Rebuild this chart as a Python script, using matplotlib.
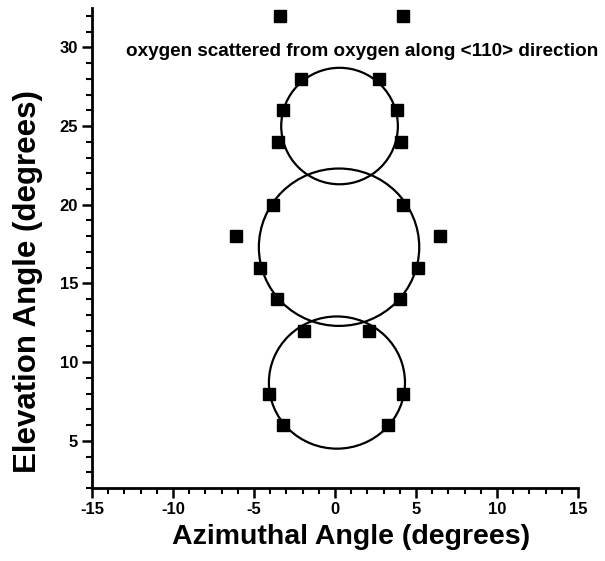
import matplotlib
matplotlib.use('Agg')
import matplotlib.pyplot as plt
from matplotlib.patches import Ellipse
from matplotlib.ticker import MultipleLocator

plt.rcParams['font.family'] = ['Liberation Sans', 'DejaVu Sans']
plt.rcParams['font.weight'] = 'bold'
plt.rcParams['axes.unicode_minus'] = False

# measured scattering points (azimuth, elevation) in degrees
azimuth = [-3.4, 4.2,
           -2.1, 2.7, -3.2, 3.8, -3.5, 4.1,
           -3.8, 4.2, -6.1, 6.5, -4.6, 5.1, -3.6, 4.0,
           -1.9, 2.1, -4.1, 4.2, -3.2, 3.3]
elevation = [32, 32,
             28, 28, 26, 26, 24, 24,
             20, 20, 18, 18, 16, 16, 14, 14,
             12, 12, 8, 8, 6, 6]

# fitted rings: centre x, centre y, radius x, radius y
ring_x = [0.28, 0.25, 0.12]
ring_y = [25.0, 17.3, 8.7]
ring_rx = [3.6, 4.95, 4.2]
ring_ry = [3.7, 5.0, 4.2]

note = 'oxygen scattered from oxygen along <110> direction'

fig = plt.figure(figsize=(6.05, 5.61), dpi=100)
ax = fig.add_axes([92 / 605, 1 - 488 / 561, 486 / 605, 480 / 561])

for cx, cy, rx, ry in zip(ring_x, ring_y, ring_rx, ring_ry):
    ax.add_patch(Ellipse((cx, cy), 2 * rx, 2 * ry, fill=False,
                         edgecolor='black', linewidth=1.6))

ax.plot(azimuth, elevation, 's', color='black', markersize=8, linestyle='none')

ax.text(1.7, 29.75, note, ha='center', va='center', fontsize=13.6,
        fontweight='bold')

ax.set_xlim(-15, 15)
ax.set_ylim(2, 32.5)
ax.xaxis.set_major_locator(MultipleLocator(5))
ax.xaxis.set_minor_locator(MultipleLocator(1))
ax.yaxis.set_minor_locator(MultipleLocator(1))
ax.set_yticks([5, 10, 15, 20, 25, 30])

for s in ['top', 'right']:
    ax.spines[s].set_visible(False)
for s in ['left', 'bottom']:
    ax.spines[s].set_linewidth(2)

ax.tick_params(which='major', direction='out', length=7, width=1.8,
               labelsize=12, pad=3)
ax.tick_params(which='minor', direction='out', length=4, width=1.5)
for lab in ax.get_xticklabels() + ax.get_yticklabels():
    lab.set_fontweight('bold')

ax.set_xlabel('Azimuthal Angle (degrees)', fontsize=20.5, fontweight='bold',
              labelpad=1)
ax.set_ylabel('Elevation Angle (degrees)', fontsize=22.5, fontweight='bold',
              labelpad=6)
ax.xaxis.set_label_coords(0.533, -0.075)
ax.yaxis.set_label_coords(-0.1, 0.43)

fig.savefig('out.png', dpi=100)
